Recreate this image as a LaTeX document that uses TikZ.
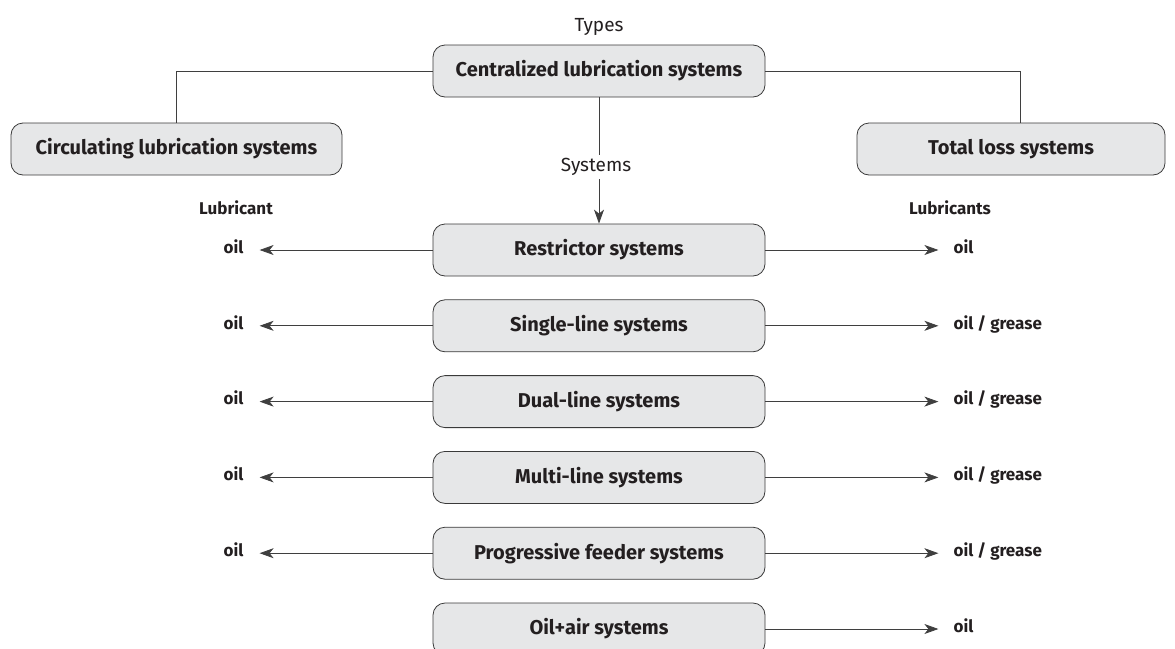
\documentclass[tikz,border=0pt]{standalone}
\usepackage{fontspec}
\setmainfont{Fira Sans}
\usetikzlibrary{arrows.meta,positioning}

\definecolor{boxfill}{HTML}{E6E7E8}
\definecolor{boxline}{HTML}{3A3A3A}
\definecolor{wire}{HTML}{3F3F3F}
\definecolor{ink}{HTML}{231F20}

\begin{document}
\begin{tikzpicture}[x=1pt,y=-1pt,node distance=23pt,
	typebox/.style={draw=boxline,fill=boxfill,line width=0.8pt,rounded corners=12pt,
		minimum width=332pt,minimum height=52pt,text=ink,font=\fontsize{20}{24}\selectfont\bfseries},
	sysbox/.style={typebox},
	note/.style={text=ink,font=\fontsize{19}{23}\selectfont},
	lub/.style={text=ink,inner sep=0pt,text height=1.5ex,text depth=0.25ex,
		font=\fontsize{17}{20}\selectfont\bfseries},
	link/.style={draw=wire,line width=0.8pt},
	flow/.style={link,-{Stealth[length=14pt,width=10pt,inset=4pt]}},
	lflow/.style={flow,shorten >=16pt},
	rflow/.style={flow,shorten >=15pt}]
	\useasboundingbox (0,0) rectangle (1175,648);

	\node[typebox] (cent) at (599,71) {Centralized lubrication systems};
	\node[typebox,minimum width=331pt] (circ) at (176.5,149) {Circulating lubrication systems};
	\node[typebox,minimum width=308pt] (total) at (1011,149) {Total loss systems};
	\node[note] (types) at (599,27) {Types};
	\node[note] (sys) at (596,167) {Systems};

	\node[sysbox] (restr) at (599,250) {Restrictor systems};
	\node[sysbox] (single) [below=of restr] {Single-line systems};
	\node[sysbox] (dual) [below=of single] {Dual-line systems};
	\node[sysbox] (multi) [below=of dual] {Multi-line systems};
	\node[sysbox] (prog) [below=of multi] {Progressive feeder systems};
	\node[sysbox] (oilair) [below=of prog] {Oil+air systems};

	\node[lub] (lubl) at (236,211) {Lubricant};
	\node[lub] (lubr) at (950,211) {Lubricants};

	% lubricant of each system
	\node[lub] (l1) [left=189pt of restr] {oil};
	\node[lub] (l2) [left=189pt of single] {oil};
	\node[lub] (l3) [left=189pt of dual] {oil};
	\node[lub] (l4) [left=189pt of multi] {oil};
	\node[lub] (l5) [left=189pt of prog] {oil};
	\node[lub] (r1) [right=188pt of restr] {oil};
	\node[lub] (r2) [right=188pt of single] {oil / grease};
	\node[lub] (r3) [right=188pt of dual] {oil / grease};
	\node[lub] (r4) [right=188pt of multi] {oil / grease};
	\node[lub] (r5) [right=188pt of prog] {oil / grease};
	\node[lub] (r6) [right=188pt of oilair] {oil};

	\draw[link] (cent.west) -| (circ.north);
	\draw[link] (cent.east) -| ([xshift=9pt]total.north);
	\draw[link] (cent.south) -- (cent.south |- sys.north);
	\draw[flow] (cent.south |- sys.south) -- (restr.north);

	\path
	(restr.west) edge[lflow] (l1.east)
	(single.west) edge[lflow] (l2.east)
	(dual.west) edge[lflow] (l3.east)
	(multi.west) edge[lflow] (l4.east)
	(prog.west) edge[lflow] (l5.east)
	(restr.east) edge[rflow] (r1.west)
	(single.east) edge[rflow] (r2.west)
	(dual.east) edge[rflow] (r3.west)
	(multi.east) edge[rflow] (r4.west)
	(prog.east) edge[rflow] (r5.west)
	(oilair.east) edge[rflow] (r6.west);
\end{tikzpicture}
\end{document}
